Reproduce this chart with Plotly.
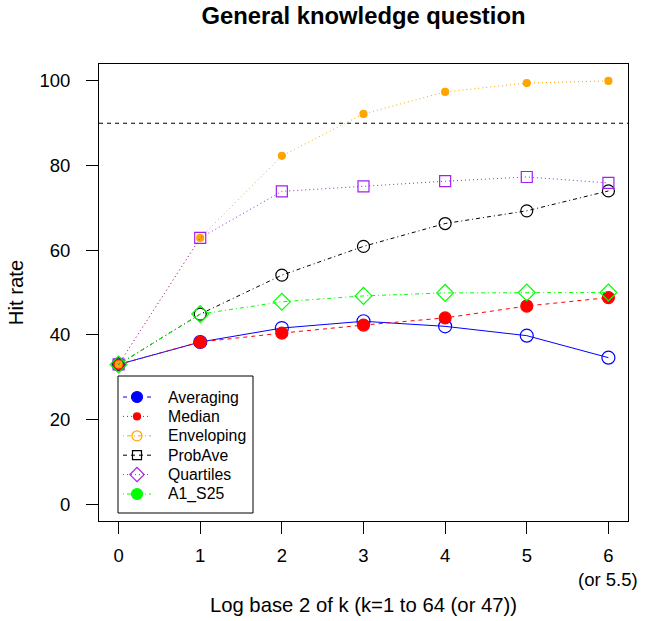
import plotly.graph_objects as go

x_vals = [0, 1, 2, 3, 4, 5, 6]
tick_text = ["0", "1", "2", "3", "4", "5", "6"]
extra_label = "(or 5.5)"
y_ticks = [0, 20, 40, 60, 80, 100]

averaging = [33.0, 38.3, 41.6, 43.2, 42.0, 39.8, 34.6]
median = [33.0, 38.3, 40.4, 42.3, 44.0, 46.8, 48.8]
enveloping = [33.0, 62.9, 82.3, 92.2, 97.4, 99.5, 100.0]
probave = [33.0, 44.9, 54.1, 60.9, 66.3, 69.3, 74.0]
quartiles = [33.0, 62.9, 73.9, 75.1, 76.3, 77.3, 75.9]
a1_s25 = [33.0, 44.9, 47.8, 49.2, 49.9, 50.0, 50.0]
threshold = 90

names = ["Averaging", "Median", "Enveloping", "ProbAve", "Quartiles", "A1_S25"]
series = [averaging, median, enveloping, probave, quartiles, a1_s25]
colors = ["#0000FF", "#FF0000", "#FFA500", "#000000", "#A020F0", "#00FF00"]

DASHED = "4px,4px"
DOTTED = "1px,3px"
DOTDASH = "1px,3px,4px,3px"

# styles used in the plot area
plot_dash = ["solid", DASHED, DOTTED, DOTDASH, DOTTED, DOTDASH]
plot_sym = ["circle-open", "circle", "circle", "circle-open", "square-open", "diamond-open"]
plot_size = [13, 12, 7, 12, 11, 13]

# styles shown in the legend box (as in the original)
leg_dash = [DASHED, DOTTED, DOTDASH, DASHED, DOTTED, DOTDASH]
leg_sym = ["circle", "circle", "circle-open", "square-open", "diamond-open", "circle"]
leg_size = [11, 7, 10, 9, 11, 11]

# plot area in page pixels
L, R, T, B = 99, 628, 64, 521
W, H = 654, 621

fig = go.Figure()

fig.add_trace(go.Scatter(x=[-0.24, 6.24], y=[threshold, threshold], mode="lines",
                         line=dict(color="black", width=1, dash=DASHED),
                         showlegend=False, hoverinfo="skip"))

for n, s, c, d, sy, sz in zip(names, series, colors, plot_dash, plot_sym, plot_size):
    fig.add_trace(go.Scatter(x=x_vals, y=s, mode="lines+markers", name=n,
                             line=dict(color=c, width=1, dash=d),
                             marker=dict(symbol=sy, size=sz, color=c, line=dict(color=c, width=1.2)),
                             showlegend=False))

# legend box drawn on an overlay axis measured in page pixels
box_l, box_r, box_t, box_b = 118, 253, 376, 513
row0, row_gap = 397, 19.4
seg_l, seg_c, seg_r, text_x = 123, 137, 151, 166
fig.add_shape(type="rect", xref="x2", yref="y2", x0=box_l, x1=box_r, y0=box_t, y1=box_b,
              line=dict(color="black", width=1), fillcolor="white", layer="below")
for i, (n, c, d, sy, sz) in enumerate(zip(names, colors, leg_dash, leg_sym, leg_size)):
    yy = row0 + i * row_gap
    fig.add_trace(go.Scatter(x=[seg_l, seg_r], y=[yy, yy], xaxis="x2", yaxis="y2", mode="lines",
                             line=dict(color=c, width=1, dash=d), showlegend=False, hoverinfo="skip"))
    fig.add_trace(go.Scatter(x=[seg_c], y=[yy], xaxis="x2", yaxis="y2", mode="markers", name=n,
                             marker=dict(symbol=sy, size=sz, color=c, line=dict(color=c, width=1.2)),
                             showlegend=False, hoverinfo="skip"))
    fig.add_annotation(x=text_x, y=yy, xref="x2", yref="y2", text=n, showarrow=False,
                       xanchor="left", yanchor="middle", font=dict(size=15.8))

fig.add_annotation(x=6, xref="x", y=-(579 - B) / (B - T), yref="paper", text=extra_label,
                   showarrow=False, xanchor="center", yanchor="middle", font=dict(size=18.5))

font = "Liberation Sans, Arial, sans-serif"
title_font = dict(family=font, size=20.3, color="black")
fig.update_layout(
    width=W, height=H,
    margin=dict(l=L, r=W - R, t=T, b=H - B),
    plot_bgcolor="white", paper_bgcolor="white",
    font=dict(family=font, size=18.5, color="black"),
    title=dict(text="<b>General knowledge question</b>", x=(L + R) / 2 / W, xanchor="center",
               y=1 - 16 / H, yanchor="middle", font=dict(family=font, size=23.8, color="black")),
    xaxis=dict(range=[-0.24, 6.24], tickmode="array", tickvals=x_vals, ticktext=tick_text,
               ticks="outside", ticklen=12, tickcolor="black", showgrid=False, zeroline=False,
               showline=True, linecolor="black", linewidth=1, mirror=True, automargin=False,
               ticklabelstandoff=6,
               title=dict(text="Log base 2 of k (k=1 to 64 (or 47))", standoff=32, font=title_font)),
    yaxis=dict(range=[-4, 104], tickmode="array", tickvals=y_ticks,
               ticks="outside", ticklen=12, tickcolor="black", showgrid=False, zeroline=False,
               showline=True, linecolor="black", linewidth=1, mirror=True, automargin=False,
               ticklabelstandoff=12,
               title=dict(text="Hit rate", standoff=10, font=title_font)),
    xaxis2=dict(overlaying="x", range=[L, R], visible=False, fixedrange=True),
    yaxis2=dict(overlaying="y", range=[B, T], visible=False, fixedrange=True),
    showlegend=False,
)

fig.write_html("out.html", post_script="document.body.style.margin='0';",
               config={"displayModeBar": False})
